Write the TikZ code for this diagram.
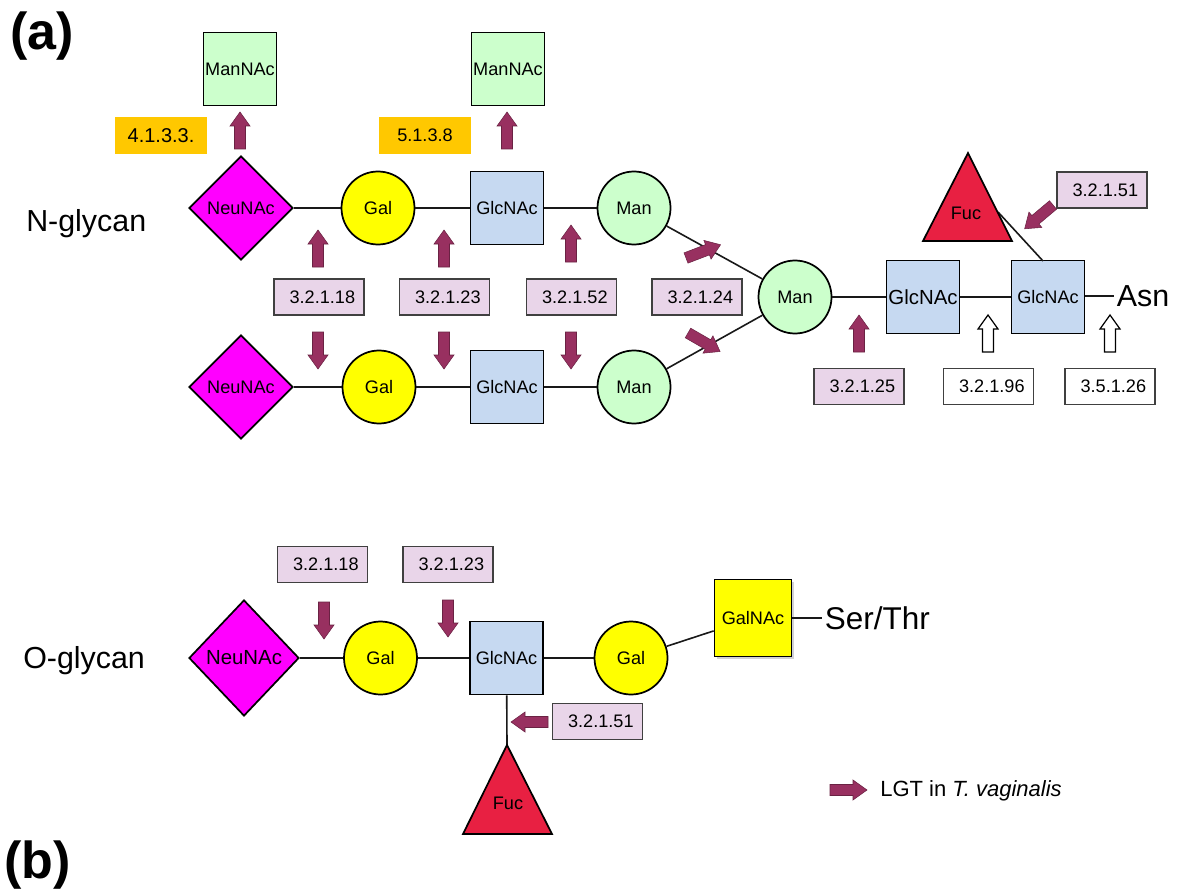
\documentclass[tikz,border=0pt]{standalone}
\usepackage{fontspec}
\setmainfont{Liberation Sans}
\usetikzlibrary{shapes.geometric,shadows}
\definecolor{neuc}{RGB}{255,0,255}
\definecolor{galc}{RGB}{255,255,0}
\definecolor{glcc}{RGB}{198,217,241}
\definecolor{manc}{RGB}{204,255,204}
\definecolor{fucc}{RGB}{232,32,66}
\definecolor{ecc}{RGB}{233,213,233}
\definecolor{orc}{RGB}{255,200,0}
\definecolor{lgtc}{RGB}{152,48,96}
\newcommand\fsz[1]{\fontsize{#1}{#1}\selectfont}
\newcommand\px{0.75pt}
\begin{document}
\begin{tikzpicture}[x=0.75pt,y=-0.75pt,
  sh/.style={draw=black, line width=1.3pt, inner sep=0pt, font=\fsz{13.6}},
  dia/.style={sh, diamond, fill=neuc, minimum width=104*\px, minimum height=104*\px},
  circ/.style={sh, circle, minimum size=73*\px},
  sq/.style={sh, rectangle, minimum size=73*\px},
  ec/.style={draw=black!75, line width=1.3pt, fill=ecc, minimum width=90*\px, minimum height=36*\px, inner sep=0pt, font=\fsz{13.6}, execute at begin node=\hspace*{5pt}},
  ecw/.style={ec, fill=white},
  orb/.style={fill=orc, minimum width=92*\px, minimum height=37*\px, inner sep=0pt},
  link/.style={line width=1.2pt, black!90},
  lgt/.style={fill=lgtc, draw=lgtc!70!black, line width=0.4pt},
  opn/.style={fill=white, draw=black, line width=0.9pt},
  tri/.style={fill=fucc, draw=black, line width=1.3pt, line join=miter},
  lbl/.style={inner sep=0pt, anchor=base west},
  barrow/.pic={\path[pic actions] (0,-5.5) -- (23,-5.5) -- (23,-10) -- (37,0) -- (23,10) -- (23,5.5) -- (0,5.5) -- cycle;}
]
\useasboundingbox (0,0) rectangle (1177,895);
\fill[white] (0,0) rectangle (1177,895);

% panel labels
\node[lbl, font=\fsz{39}\bfseries] (la) at (10,50) {(a)};
\node[lbl, font=\fsz{39}\bfseries] (lb) at (4,878) {(b)};
\node[lbl, font=\fsz{22.8}] (ngl) at (26,231) {N-glycan};
\node[lbl, font=\fsz{22.8}] (ogl) at (23,668) {O-glycan};

% ---------------- N-glycan ----------------
\node[dia] (n1) at (241,208) {NeuNAc};
\node[circ, fill=galc] (g1) at (378,208) {Gal};
\node[sq, fill=glcc] (c1) at (507,208) {GlcNAc};
\node[circ, fill=manc] (m1) at (634,208) {Man};

\node[dia] (n2) at (241,387) {NeuNAc};
\node[circ, fill=galc] (g2) at (379,387) {Gal};
\node[sq, fill=glcc] (c2) at (507,387) {GlcNAc};
\node[circ, fill=manc] (m2) at (634,387) {Man};

\node[circ, fill=manc] (m0) at (795,297) {Man};
\node[sq, fill=glcc, font=\fsz{15.3}] (c3) at (923,297) {GlcNAc};
\node[sq, fill=glcc, font=\fsz{13.6}] (c4) at (1048,297) {GlcNAc};
\node[inner sep=2pt, anchor=west, font=\fsz{22.8}] (asn) at (1114,296) {Asn};

\draw[link] (n1) -- (g1);
\draw[link] (g1) -- (c1);
\draw[link] (c1) -- (m1);
\draw[link] (n2) -- (g2);
\draw[link] (g2) -- (c2);
\draw[link] (c2) -- (m2);
\draw[link] (m1) -- (m0);
\draw[link] (m2) -- (m0);
\draw[link] (m0) -- (c3);
\draw[link] (c3) -- (c4);
\draw[link] (c4.east |- asn.west) -- (asn.west);

% Fuc on core GlcNAc
\coordinate (fa) at (998,212);
\coordinate (fb) at (1043,261);
\draw[link] (fa) -- (fb);
\draw[tri] (968,153) -- (1012,241) -- (923,241) -- cycle;
\node[inner sep=0pt, font=\fsz{13.6}] (fuc1) at (966,213) {Fuc};

% ManNAc products
\node[sq, fill=manc] (mn1) at (240,69) {ManNAc};
\node[sq, fill=manc] (mn2) at (508,69) {ManNAc};
\node[orb, font=\fsz{15}] (o1) at (161,135.5) {4.1.3.3.};
\node[orb, font=\fsz{13.6}] (o2) at (425,135.5) {5.1.3.8};
\pic[lgt, rotate=90] at (240,149) {barrow};
\pic[lgt, rotate=90] at (507,149) {barrow};

% enzyme boxes, middle row
\node[ec] (e1) at (319,297) {3.2.1.18};
\node[ec] (e2) at (444.5,297) {3.2.1.23};
\node[ec] (e3) at (571.5,297) {3.2.1.52};
\node[ec] (e4) at (697,297) {3.2.1.24};
\pic[lgt, rotate=90] at (318,267) {barrow};
\pic[lgt, rotate=90] at (444,267) {barrow};
\pic[lgt, rotate=90] at (571,262) {barrow};
\pic[lgt, rotate=-90] at (318,332) {barrow};
\pic[lgt, rotate=-90] at (444,332) {barrow};
\pic[lgt, rotate=-90] at (571,332) {barrow};
\pic[lgt, rotate=21] at (686,258) {barrow};
\pic[lgt, rotate=-30] at (688,333) {barrow};

% right enzyme boxes
\node[ec] (e5) at (859,386.5) {3.2.1.25};
\node[ecw] (e6) at (988.5,386.5) {3.2.1.96};
\node[ecw] (e7) at (1110,386.5) {3.5.1.26};
\node[ec] (e8) at (1102,190) {3.2.1.51};
\pic[lgt, rotate=90] at (859,352) {barrow};
\pic[opn, rotate=90] at (988,352) {barrow};
\pic[opn, rotate=90] at (1110,352) {barrow};
\pic[lgt, rotate=-140] at (1053,205) {barrow};

% ---------------- O-glycan ----------------
\node[dia, minimum width=110*\px, minimum height=116*\px, font=\fsz{15.3}] (on) at (244,658) {NeuNAc};
\node[circ, fill=galc] (og1) at (380.5,658) {Gal};
\node[sq, fill=glcc] (oc) at (506.5,658) {GlcNAc};
\node[circ, fill=galc] (og2) at (631,658) {Gal};
\node[sq, fill=galc, minimum size=77*\px, font=\fsz{13.6}, drop shadow={opacity=0.35, shadow xshift=1.5pt, shadow yshift=-1.5pt}] (ogn) at (753,618) {GalNAc};
\node[inner sep=2pt, anchor=west, font=\fsz{23.6}] (ser) at (822,618) {Ser/Thr};

\draw[link] (on) -- (og1);
\draw[link] (og1) -- (oc);
\draw[link] (oc) -- (og2);
\draw[link] (og2) -- (ogn);
\draw[link] (ogn.east) -- (ser.west);

\coordinate (ofa) at (507,745);
\draw[link] (oc) -- (ofa);
\draw[tri] (ofa) -- (552,834) -- (463,834) -- cycle;
\node[inner sep=0pt, font=\fsz{13.6}] (fuc2) at (508,803) {Fuc};

\node[ec] (oe1) at (322.5,564.5) {3.2.1.18};
\node[ec] (oe2) at (448,564.5) {3.2.1.23};
\node[ec] (oe3) at (597.5,721.5) {3.2.1.51};
\pic[lgt, rotate=-90] at (324,602) {barrow};
\pic[lgt, rotate=-90] at (448,600) {barrow};
\pic[lgt, rotate=180] at (548,722) {barrow};

% legend
\pic[lgt] at (830,790) {barrow};
\node[lbl, anchor=west, font=\fsz{16.5}] (leg) at (880,791) {LGT in \textit{T. vaginalis}};
\end{tikzpicture}
\end{document}
